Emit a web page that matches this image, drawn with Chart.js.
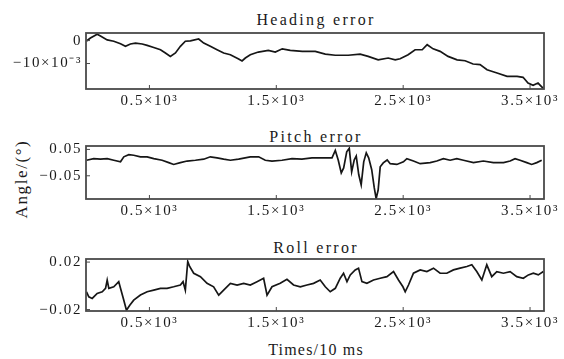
<!DOCTYPE html>
<html><head><meta charset="utf-8">
<script src="https://cdn.jsdelivr.net/npm/chart.js@4"></script>
<style>
body{margin:0;background:#fff;width:564px;height:359px;overflow:hidden;position:relative;font-family:'Liberation Serif',serif;color:#1a1a1a}
canvas{position:absolute;left:0}
.t{position:absolute;left:86px;width:458px;text-align:center;font-size:16px;letter-spacing:2.3px;line-height:16px;white-space:nowrap;padding-left:2px;box-sizing:border-box}
#ylab{position:absolute;left:-28px;top:171px;width:100px;text-align:center;font-size:17px;line-height:16px;letter-spacing:1.6px;transform:rotate(-90deg);white-space:nowrap}
</style></head><body>
<div class="t" style="top:11.6px">Heading error</div>
<div class="t" style="top:129px">Pitch error</div>
<div class="t" style="top:240px">Roll error</div>
<div class="t" style="top:341.6px;letter-spacing:1.2px">Times/10 ms</div>
<div id="ylab">Angle/(°)</div>
<canvas id="c1" width="564" height="112" style="top:0"></canvas>
<canvas id="c2" width="564" height="114" style="top:112px"></canvas>
<canvas id="c3" width="564" height="114" style="top:226px"></canvas>
<script>
const xTickValues = [500, 1500, 2500, 3500];
const xTickLabels = ['0.5×10³', '1.5×10³', '2.5×10³', '3.5×10³'];

const headingTicks = [0, -0.01];
const headingTickLabels = ['0', '−10×10⁻³'];
const pitchTicks = [0.05, -0.05];
const pitchTickLabels = ['0.05', '−0.05'];
const rollTicks = [0.02, -0.02];
const rollTickLabels = ['0.02', '−0.02'];

const headingTime = [4,35,88,114,167,219,272,311,350,390,443,482,534,587,626,665,705,744,783,823,888,928,980,1033,1085,1138,1203,1230,1256,1295,1358,1437,1492,1547,1610,1705,1807,1886,1965,2067,2161,2224,2303,2382,2437,2476,2539,2594,2650,2689,2736,2791,2854,2925,2988,3051,3106,3161,3240,3319,3398,3445,3484,3524,3563,3602];
const headingError = [-0.0002,0.0011,0.0028,0.0020,0.0003,-0.0003,-0.0014,-0.0025,-0.0015,-0.0011,-0.0015,-0.0021,-0.0030,-0.0040,-0.0054,-0.0069,-0.0054,-0.0025,-0.0003,-0.0001,0.0007,-0.0011,-0.0025,-0.0040,-0.0054,-0.0062,-0.0080,-0.0089,-0.0076,-0.0062,-0.0050,-0.0043,-0.0050,-0.0036,-0.0043,-0.0047,-0.0047,-0.0059,-0.0064,-0.0064,-0.0059,-0.0069,-0.0084,-0.0076,-0.0084,-0.0079,-0.0062,-0.0040,-0.0040,-0.0018,-0.0036,-0.0047,-0.0069,-0.0084,-0.0088,-0.0102,-0.0105,-0.0127,-0.0141,-0.0156,-0.0156,-0.0160,-0.0185,-0.0195,-0.0185,-0.0207];

const pitchTime = [4,61,114,167,219,272,298,337,376,429,482,534,600,652,691,744,797,862,928,980,1033,1085,1138,1203,1295,1361,1413,1466,1545,1624,1702,1781,1860,1939,1965,1988,2012,2031,2055,2075,2094,2114,2130,2150,2169,2189,2209,2228,2252,2272,2287,2303,2319,2343,2374,2398,2450,2502,2529,2581,2634,2713,2765,2817,2870,2923,2975,3054,3132,3211,3291,3343,3382,3421,3474,3513,3553,3592];
const pitchError = [0.009,0.015,0.013,0.015,0.009,0.003,0.022,0.030,0.028,0.022,0.022,0.015,0.009,0.000,-0.007,0.000,0.006,0.009,0.013,0.022,0.018,0.013,0.009,0.013,0.022,0.022,0.009,0.006,0.009,0.015,0.013,0.018,0.018,0.018,0.046,0.010,-0.039,-0.020,0.041,0.054,-0.035,0.010,0.025,-0.046,-0.084,0.003,0.037,0.018,-0.027,-0.095,-0.137,-0.103,-0.016,-0.001,0.010,-0.004,-0.007,0.003,0.015,0.006,-0.004,0.000,0.006,0.015,0.009,0.015,0.009,0.000,0.006,0.000,0.000,0.006,0.015,0.009,0.000,-0.007,0.000,0.009];

const rollTime = [4,22,49,88,128,154,167,180,219,258,272,298,319,345,376,429,482,534,587,639,691,744,765,783,802,817,849,902,954,1006,1046,1085,1138,1191,1243,1295,1348,1400,1427,1466,1531,1584,1636,1689,1742,1794,1846,1886,1925,1965,2004,2030,2057,2083,2122,2148,2175,2214,2266,2319,2372,2424,2463,2498,2516,2542,2581,2634,2687,2739,2791,2844,2896,2949,3002,3041,3080,3120,3159,3198,3238,3290,3343,3395,3447,3487,3526,3565,3605];
const rollError = [-0.0050,-0.0093,-0.0106,-0.0064,-0.0050,-0.0021,0.0049,-0.0021,-0.0008,0.0035,-0.0021,-0.0121,-0.0206,-0.0163,-0.0121,-0.0078,-0.0050,-0.0036,-0.0021,-0.0021,-0.0008,0.0007,0.0035,-0.0036,0.0205,0.0163,0.0106,0.0077,0.0021,-0.0008,-0.0078,-0.0036,0.0021,0.0007,0.0021,0.0007,0.0035,0.0064,-0.0078,-0.0008,0.0021,0.0055,0.0007,-0.0008,0.0007,0.0021,0.0049,-0.0008,-0.0050,-0.0021,0.0064,0.0106,0.0035,0.0092,0.0134,0.0149,0.0035,0.0021,0.0049,0.0064,0.0077,0.0120,0.0049,-0.0008,-0.0050,0.0007,0.0106,0.0134,0.0120,0.0149,0.0106,0.0106,0.0134,0.0149,0.0163,0.0177,0.0120,0.0049,0.0177,0.0077,0.0120,0.0106,0.0120,0.0077,0.0064,0.0092,0.0106,0.0092,0.0120];

const FONT = {family: "'Liberation Serif', serif", size: 15};

const boxPlugin = {
  id: 'box',
  beforeDraw(chart) { chart.ctx.letterSpacing = '1.6px'; },
  afterDatasetsDraw(chart) {
    const {ctx, chartArea: a, scales: {x, y}} = chart;
    ctx.save();
    ctx.strokeStyle = '#4a4a4a';
    ctx.lineWidth = 1.8;
    ctx.strokeRect(a.left, a.top, a.right - a.left, a.bottom - a.top);
    ctx.lineWidth = 1;
    x.ticks.forEach(t => {
      const px = x.getPixelForValue(t.value);
      ctx.beginPath(); ctx.moveTo(px, a.bottom); ctx.lineTo(px, a.bottom - 4); ctx.stroke();
    });
    y.ticks.forEach(t => {
      const py = y.getPixelForValue(t.value);
      ctx.beginPath(); ctx.moveTo(a.left, py); ctx.lineTo(a.left + 4, py); ctx.stroke();
    });
    ctx.restore();
  }
};

function makeChart(id, time, vals, yMin, yMax, yTicks, yLabels, padTop, xHeight) {
  new Chart(document.getElementById(id), {
    type: 'line',
    data: {datasets: [{
      data: time.map((t, i) => ({x: t, y: vals[i]})),
      borderColor: '#161616', borderWidth: 1.7, pointRadius: 0, tension: 0, fill: false
    }]},
    options: {
      responsive: false, animation: false, devicePixelRatio: 1,
      layout: {autoPadding: false, padding: {left: 0, right: 20, top: padTop, bottom: 0}},
      plugins: {legend: {display: false}, tooltip: {enabled: false}},
      scales: {
        x: {
          type: 'linear', min: 0, max: 3610,
          grid: {display: false, drawTicks: false}, border: {display: false},
          afterBuildTicks: s => { s.ticks = xTickValues.map(v => ({value: v})); },
          afterFit: s => { s.height = xHeight; },
          ticks: {autoSkip: false, maxRotation: 0, padding: 3, color: '#1a1a1a', font: FONT,
            callback: (v, i) => xTickLabels[i]}
        },
        y: {
          type: 'linear', min: yMin, max: yMax,
          grid: {display: false, drawTicks: false}, border: {display: false},
          afterBuildTicks: s => { s.ticks = yTicks.map(v => ({value: v})); },
          afterFit: s => { s.width = 86; },
          ticks: {autoSkip: false, padding: 4, color: '#1a1a1a', font: FONT,
            callback: (v, i) => yLabels[i]}
        }
      }
    },
    plugins: [boxPlugin]
  });
}

makeChart('c1', headingTime, headingError, -0.0211, 0.0033, headingTicks, headingTickLabels, 33, 23);
makeChart('c2', pitchTime, pitchError, -0.138, 0.063, pitchTicks, pitchTickLabels, 34, 27);
makeChart('c3', rollTime, rollError, -0.0212, 0.0226, rollTicks, rollTickLabels, 33, 29);
</script>
</body></html>
